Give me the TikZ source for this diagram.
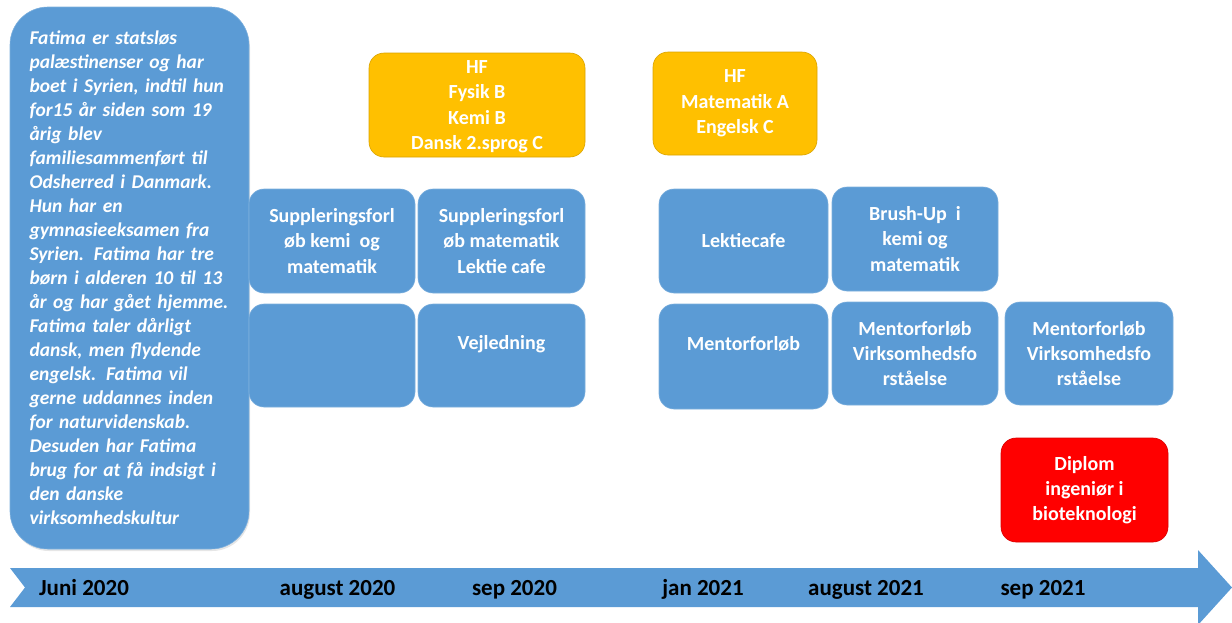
\documentclass[tikz,border=0pt]{standalone}
\usepackage{fontspec}
\setmainfont{Carlito}
\usetikzlibrary{shadows}
\definecolor{boxblue}{HTML}{5B9BD5}
\definecolor{hfyellow}{HTML}{FFC000}
\definecolor{diplomred}{HTML}{FF0000}
\tikzset{
  tbox/.style={rectangle, rounded corners=15pt, fill=boxblue, draw=boxblue!80!white,
    line width=0.6pt, text=white, align=center, inner sep=0pt,
    minimum width=166pt, minimum height=104pt,
    font=\fontsize{20}{25.3}\selectfont\bfseries},
  hfbox/.style={tbox, fill=hfyellow, draw=hfyellow!85!black},
  diplombox/.style={tbox, fill=diplomred, draw=diplomred!85!black},
  datelabel/.style={anchor=base, font=\fontsize{23}{28}\selectfont\bfseries, text=black},
}

\begin{document}
\begin{tikzpicture}[x=1pt, y=-1pt]
  \useasboundingbox (0,0) rectangle (1232,622);

  \fill[boxblue] (10,568) -- (1198,568) -- (1198,550) -- (1232,587.5) -- (1198,625)
    -- (1198,607) -- (10,607) -- (25,587.5) -- cycle;

  \node[tbox, minimum width=239pt, minimum height=542pt, rounded corners=38pt,
    align=left, text width=200pt, font=\fontsize{19.5}{24}\selectfont\bfseries\itshape,
    drop shadow={opacity=0.2, shadow xshift=1pt, shadow yshift=-2pt}] (fatima) at (129.5,278)
    {Fatima er statsløs\\ palæstinenser og har\\ boet i Syrien, indtil hun\\
     for15 år siden som 19\\ årig blev\\ familiesammenført til\\ Odsherred i Danmark.\\
     Hun har en\\ gymnasieeksamen fra\\ Syrien. Fatima har tre\\ børn i alderen 10 til 13\\
     år og har gået hjemme.\\ Fatima taler dårligt\\ dansk, men flydende\\
     engelsk. Fatima vil\\ gerne uddannes inden\\ for naturvidenskab.\\
     Desuden har Fatima\\ brug for at få indsigt i\\ den danske\\ virksomhedskultur};

  \node[hfbox, minimum width=216pt, text depth=0pt] (hfFysik) at (477,105)
    {HF\\ Fysik B\\ Kemi B\\ Dansk 2.sprog C};
  \node[hfbox, minimum width=164pt, minimum height=103pt] (hfMat) at (735,103.5)
    {HF\\ Matematik A\\ Engelsk C};

  \node[tbox] (supKemi) at (332,241) {Suppleringsforl\\ øb kemi~ og\\ matematik};
  \node[tbox, minimum width=167pt] (supMat) at (501.5,241)
    {Suppleringsforl\\ øb matematik\\ Lektie cafe};
  \node[tbox, minimum width=169pt] (lektiecafe) at (743.5,241) {Lektiecafe};
  \node[tbox] (brushUp) at (915,239) {Brush-Up~ i\\ kemi og\\ matematik};

  \node[tbox, minimum height=103pt] (blank) at (332,355.5) {};
  \node[tbox, minimum width=167pt, minimum height=103pt] (vejledning) at (501.5,355.5)
    {Vejledning\\ \mbox{}};
  \node[tbox, minimum width=169pt, minimum height=105pt] (mentorA) at (743.5,356.5)
    {Mentorforløb\\ \mbox{}};
  \node[tbox, minimum height=103pt] (mentorB) at (915,353.5)
    {Mentorforløb\\ Virksomhedsfo\\ rståelse};
  \node[tbox, minimum width=168pt, minimum height=103pt] (mentorC) at (1089,353.5)
    {Mentorforløb\\ Virksomhedsfo\\ rståelse};

  \node[diplombox, minimum width=167pt] (diplom) at (1084.5,490)
    {Diplom\\ ingeniør i\\ bioteknologi};

  \node[datelabel] (juni20) at (84,595) {Juni 2020};
  \node[datelabel] (aug20) at (337.5,595) {august 2020};
  \node[datelabel] (sep20) at (514.5,595) {sep 2020};
  \node[datelabel] (jan21) at (703,595) {jan 2021};
  \node[datelabel] (aug21) at (866,595) {august 2021};
  \node[datelabel] (sep21) at (1043,595) {sep 2021};
\end{tikzpicture}
\end{document}
